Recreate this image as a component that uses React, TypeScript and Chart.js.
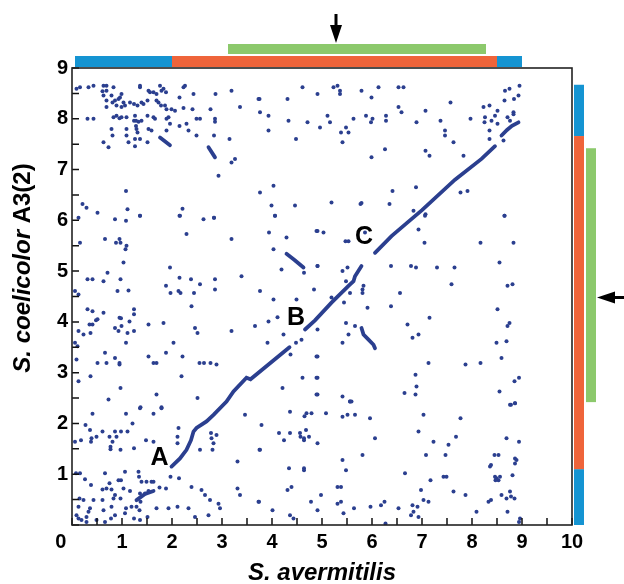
import React, { useEffect, useRef } from 'react';
import { Chart, registerables } from 'chart.js';
Chart.register(...registerables);

// ---- axes ----
const xTickValues = [0, 1, 2, 3, 4, 5, 6, 7, 8, 9, 10];
const yTickValues = [0, 1, 2, 3, 4, 5, 6, 7, 8, 9];
const xMinorTicks = [0, 0.5, 1, 1.5, 2, 2.5, 3, 3.5, 4, 4.5, 5, 5.5, 6, 6.5, 7, 7.5, 8, 8.5, 9, 9.5, 10];
const yMinorTicks = [0, 0.5, 1, 1.5, 2, 2.5, 3, 3.5, 4, 4.5, 5, 5.5, 6, 6.5, 7, 7.5, 8, 8.5, 9];
const xTitle = 'S. avermitilis';
const yTitleItalic = 'S. coelicolor ';
const yTitlePlain = 'A3(2)';

// ---- scattered dots (x = S. avermitilis Mb, y = S. coelicolor Mb) ----
const dotsUpperLeft: [number, number][] = [
  [0.09, 8.59], [0.16, 8.62], [0.33, 8.62], [0.43, 8.65], [0.63, 8.65], [0.69, 8.65], [0.83, 8.62], [0.69, 8.55],
  [0.61, 8.54], [0.79, 8.46], [0.63, 8.46], [0.99, 8.49], [0.96, 8.42], [0.93, 8.39], [0.86, 8.36], [0.69, 8.36],
  [0.81, 8.32], [1.03, 8.32], [1.06, 8.26], [0.89, 8.26], [0.69, 8.23], [0.99, 8.23], [1.24, 8.29], [1.31, 8.26],
  [1.39, 8.32], [1.43, 8.29], [1.51, 8.36], [1.56, 8.52], [1.53, 8.55], [1.63, 8.52], [1.69, 8.49], [1.76, 8.65],
  [1.79, 8.55], [1.83, 8.59], [1.88, 8.52], [1.73, 8.32], [1.69, 8.36], [1.78, 8.26], [1.86, 8.26], [1.89, 8.19],
  [1.99, 8.19], [2.06, 8.16], [2.15, 8.42], [2.23, 8.62], [2.26, 8.65], [2.43, 8.49], [2.41, 8.19], [2.23, 8.21],
  [2.49, 8.0], [2.56, 8.0], [2.87, 8.49], [3.19, 8.55], [3.75, 8.39], [3.36, 8.23], [2.77, 8.19], [2.86, 8.0],
  [2.86, 7.94], [1.36, 8.65], [1.36, 8.62], [1.16, 8.32], [0.83, 8.03], [0.89, 8.06], [0.95, 8.01], [0.99, 8.03],
  [1.09, 8.03], [1.26, 8.06], [1.24, 7.96], [1.28, 7.96], [1.33, 7.94], [1.39, 7.96], [1.51, 8.06], [1.63, 8.03],
  [1.66, 8.0], [1.89, 8.0], [1.93, 8.03], [1.96, 7.9], [0.31, 8.0], [0.43, 8.0], [0.79, 7.8], [0.81, 7.67],
  [0.63, 7.54], [0.73, 7.44], [1.09, 7.8], [1.09, 7.67], [1.26, 7.6], [1.26, 7.46], [1.13, 7.54], [1.36, 7.6],
  [1.53, 7.8], [1.59, 7.77], [1.51, 7.54], [1.89, 7.77], [2.15, 7.86], [2.29, 7.9], [2.33, 7.77], [2.49, 7.67],
  [2.84, 7.67], [3.15, 7.6], [3.19, 7.14], [3.26, 7.21], [2.93, 6.88], [1.08, 6.58], [1.11, 6.22], [0.21, 6.32],
  [0.29, 6.25], [0.51, 6.15], [1.36, 6.09], [2.16, 6.09], [2.21, 6.23], [2.84, 6.05], [3.76, 6.55], [1.28, 7.86],
  [1.29, 7.8], [1.31, 7.73],
];

const dotsUpperRight: [number, number][] = [
  [3.73, 8.39], [3.76, 8.13], [3.93, 8.06], [3.93, 7.77], [4.31, 8.39], [4.33, 7.96], [4.48, 7.6], [4.61, 8.62],
  [4.71, 7.93], [4.91, 8.49], [4.96, 7.83], [5.11, 8.06], [5.16, 7.93], [5.23, 8.62], [5.31, 8.65], [5.36, 8.55],
  [5.36, 8.49], [5.38, 7.73], [5.41, 7.54], [5.48, 7.83], [5.53, 7.73], [5.63, 8.0], [5.79, 8.55], [5.88, 8.06],
  [5.99, 8.42], [5.98, 7.93], [6.01, 8.0], [5.99, 7.24], [6.13, 8.62], [6.26, 7.4], [6.28, 8.06], [6.28, 7.96],
  [6.53, 8.62], [6.63, 8.62], [6.53, 8.23], [6.59, 8.13], [6.89, 7.93], [7.07, 8.16], [7.07, 7.37], [7.15, 7.27],
  [7.37, 7.96], [7.46, 7.77], [7.46, 7.67], [7.57, 8.32], [7.63, 7.54], [7.83, 7.27], [7.97, 8.0], [8.23, 8.23],
  [8.35, 8.26], [8.26, 8.03], [8.25, 7.93], [8.39, 7.96], [8.35, 7.77], [8.35, 7.6], [8.46, 8.06], [8.51, 8.16],
  [8.51, 7.9], [8.63, 7.57], [8.65, 8.36], [8.66, 8.55], [8.75, 8.59], [8.84, 8.39], [8.93, 8.46], [8.95, 8.65],
  [8.83, 8.13], [8.83, 8.09], [8.71, 8.03], [8.76, 7.96], [4.03, 6.68], [3.99, 6.29], [4.06, 6.09], [4.46, 6.29],
  [5.19, 6.35], [5.79, 6.34], [5.77, 6.32], [6.35, 6.32], [6.41, 6.58], [6.88, 6.65], [6.83, 6.19], [7.07, 6.12],
  [7.77, 6.55], [7.91, 6.58], [8.65, 6.09],
];

const dotsMiddleLeft: [number, number][] = [
  [0.13, 6.05], [0.86, 6.02], [1.08, 5.99], [1.36, 6.09], [2.15, 6.09], [2.63, 6.02], [2.84, 6.05], [4.06, 6.09],
  [0.16, 5.56], [0.66, 5.63], [0.88, 5.56], [0.95, 5.63], [0.97, 5.56], [1.09, 5.5], [1.07, 5.43], [1.03, 5.17],
  [2.29, 5.73], [3.19, 5.63], [3.94, 5.76], [4.29, 5.66], [4.03, 5.43], [4.19, 5.03], [4.91, 5.79], [4.91, 5.1],
  [4.64, 4.97], [0.71, 4.97], [0.31, 4.84], [0.41, 4.84], [0.63, 4.8], [0.97, 4.84], [1.96, 5.07], [2.15, 4.87],
  [2.38, 4.84], [2.56, 4.74], [2.86, 4.84], [2.86, 4.64], [3.39, 4.9], [0.06, 4.61], [0.13, 4.54], [0.91, 4.61],
  [1.13, 4.62], [1.88, 4.71], [1.97, 4.57], [2.13, 4.61], [2.17, 4.57], [2.44, 4.57], [3.76, 4.61], [4.03, 4.44],
  [4.49, 4.44], [4.84, 4.64], [2.39, 4.31], [0.31, 4.25], [0.41, 4.21], [0.63, 4.18], [1.24, 4.25], [1.24, 4.15],
  [0.48, 4.03], [0.51, 4.05], [0.95, 4.08], [0.98, 4.07], [1.15, 4.01], [0.35, 3.95], [0.41, 3.95], [0.99, 3.92],
  [0.86, 3.88], [0.93, 3.82], [1.11, 3.78], [1.24, 3.82], [1.53, 3.95], [1.83, 3.98], [0.13, 3.82], [0.23, 3.75],
  [0.37, 3.78], [2.46, 3.88], [2.51, 3.78], [3.19, 3.82], [3.66, 3.92], [3.93, 4.01], [4.11, 4.09], [2.03, 3.59],
  [1.08, 3.59], [0.06, 3.59], [0.11, 3.52], [3.91, 3.59], [4.48, 3.59], [4.59, 3.65], [4.23, 3.75], [4.37, 3.36],
  [0.66, 3.39], [1.53, 3.32], [1.88, 3.39], [2.21, 3.32], [0.09, 3.26], [0.51, 3.19], [0.69, 3.19], [0.86, 3.29],
  [0.95, 3.19], [0.95, 3.16], [1.63, 3.19], [1.69, 3.19], [2.55, 3.19], [2.64, 3.19], [2.77, 3.19], [2.89, 3.16],
  [4.91, 3.32], [0.37, 2.93], [2.19, 2.93], [0.13, 2.83], [4.61, 2.9], [4.91, 2.9], [0.97, 2.7], [4.21, 2.7],
  [1.69, 2.57], [0.73, 2.47], [2.51, 2.5], [4.91, 2.57], [1.37, 2.32], [1.79, 2.32],
];

const dotsMiddleRight: [number, number][] = [
  [4.89, 5.79], [5.03, 5.76], [5.47, 5.59], [5.53, 5.59], [5.86, 5.76], [7.06, 6.09], [6.93, 5.82], [7.05, 5.56],
  [8.65, 6.09], [8.17, 5.56], [8.83, 5.56], [4.91, 5.1], [5.41, 5.0], [5.51, 5.07], [5.48, 4.8], [6.38, 5.1],
  [6.78, 5.1], [6.88, 5.07], [7.3, 5.07], [7.65, 5.07], [8.55, 5.17], [7.59, 4.74], [8.71, 4.71], [8.81, 4.74],
  [5.83, 4.71], [5.81, 4.64], [5.81, 4.57], [5.56, 4.57], [6.56, 4.57], [5.19, 4.48], [5.44, 4.38], [5.91, 4.28],
  [6.38, 4.31], [8.51, 4.25], [7.15, 4.08], [5.48, 3.98], [5.66, 3.92], [6.71, 3.95], [8.75, 3.98], [8.71, 3.92],
  [4.91, 3.85], [5.53, 3.75], [6.93, 3.75], [6.81, 3.69], [5.41, 3.59], [8.49, 3.59], [8.69, 3.62], [4.89, 3.32],
  [7.13, 3.19], [7.87, 3.16], [8.17, 3.19], [8.59, 3.29], [6.87, 2.96], [4.89, 2.9], [8.85, 2.83], [8.94, 2.9],
  [6.89, 2.73], [6.65, 2.6], [6.87, 2.57], [8.55, 2.63], [4.89, 2.57], [5.41, 2.53], [5.56, 2.43], [8.78, 2.37],
  [8.86, 2.4],
];

const dotsLowerLeft: [number, number][] = [
  [1.36, 2.3], [1.79, 2.3], [0.41, 2.19], [1.08, 2.19], [1.63, 2.19], [3.46, 2.17], [0.27, 1.97], [1.21, 2.0],
  [0.36, 1.87], [0.61, 1.84], [0.86, 1.84], [0.98, 1.84], [1.11, 1.84], [0.39, 1.71], [0.49, 1.74], [0.75, 1.74],
  [0.89, 1.74], [2.13, 1.91], [2.11, 1.74], [0.06, 1.64], [0.18, 1.67], [0.38, 1.64], [0.81, 1.64], [1.48, 1.67],
  [1.63, 1.64], [2.11, 1.61], [2.78, 1.81], [2.89, 1.77], [2.79, 1.71], [2.83, 1.61], [0.77, 1.54], [0.77, 1.49],
  [0.97, 1.48], [1.24, 1.51], [2.56, 1.48], [2.81, 1.48], [3.75, 1.48], [3.31, 1.25], [0.08, 1.02], [0.16, 1.02],
  [0.66, 1.02], [1.06, 1.05], [1.33, 1.05], [1.97, 0.95], [2.14, 0.92], [1.34, 0.95], [0.26, 0.9], [0.93, 0.88],
  [0.98, 0.88], [1.39, 0.85], [1.49, 0.85], [1.59, 0.85], [1.63, 0.85], [0.38, 0.79], [0.75, 0.82], [0.61, 0.7],
  [0.69, 0.72], [0.79, 0.7], [0.86, 0.59], [1.03, 0.72], [1.75, 0.74], [1.88, 0.72], [1.16, 0.67], [1.36, 0.62],
  [1.46, 0.62], [1.53, 0.67], [0.15, 0.52], [0.23, 0.49], [0.43, 0.49], [0.61, 0.49], [0.83, 0.52], [0.97, 0.52],
  [1.37, 0.46], [2.39, 0.75], [2.59, 0.69], [2.66, 0.59], [2.76, 0.49], [3.31, 0.72], [3.36, 0.59], [2.93, 0.42],
  [2.96, 0.33], [3.73, 0.46], [0.13, 0.36], [0.36, 0.33], [0.33, 0.26], [0.63, 0.29], [0.79, 0.36], [1.08, 0.33],
  [1.19, 0.36], [1.69, 0.33], [1.93, 0.33], [2.11, 0.36], [2.33, 0.33], [2.46, 0.16], [2.73, 0.19], [0.09, 0.19],
  [0.13, 0.13], [0.19, 0.1], [0.29, 0.16], [0.29, 0.06], [0.49, 0.1], [0.66, 0.06], [0.78, 0.13], [0.86, 0.19],
  [1.06, 0.23], [1.24, 0.13], [1.36, 0.1], [1.51, 0.16], [1.29, 0.36], [1.35, 0.29],
];

const dotsLowerRight: [number, number][] = [
  [3.79, 1.97], [3.76, 1.48], [4.36, 2.23], [4.14, 1.81], [4.24, 1.67], [4.36, 1.81], [4.56, 1.81], [4.57, 1.74],
  [4.64, 1.71], [4.64, 1.67], [4.68, 1.87], [4.74, 1.74], [4.65, 2.14], [4.69, 2.2], [4.79, 2.2], [4.91, 1.61],
  [5.08, 2.2], [5.41, 2.13], [5.51, 2.17], [5.66, 2.17], [5.56, 2.43], [5.59, 2.43], [5.96, 2.1], [6.06, 1.71],
  [5.81, 1.38], [5.41, 1.28], [5.48, 1.08], [4.34, 1.12], [4.64, 1.12], [4.64, 1.08], [6.66, 1.02], [7.03, 2.17],
  [6.93, 1.84], [7.23, 1.64], [7.08, 1.38], [7.47, 1.38], [7.53, 1.58], [7.68, 1.74], [7.77, 2.1], [7.17, 0.88],
  [7.43, 0.95], [7.49, 0.95], [6.98, 0.69], [4.39, 0.75], [4.31, 0.69], [5.31, 0.75], [5.38, 0.75], [4.98, 0.59],
  [4.78, 0.46], [5.31, 0.42], [5.38, 0.46], [3.74, 0.46], [4.01, 0.29], [4.36, 0.19], [4.43, 0.13], [4.91, 0.29],
  [5.43, 0.23], [5.64, 0.33], [5.97, 0.36], [6.18, 0.39], [6.25, 0.46], [6.27, 0.03], [6.53, 0.33], [6.81, 0.39],
  [6.91, 0.36], [6.83, 0.26], [6.78, 0.19], [6.93, 0.16], [7.03, 0.49], [7.13, 0.46], [7.63, 0.66], [7.87, 0.59],
  [8.09, 0.26], [8.33, 0.46], [8.38, 0.49], [8.36, 1.15], [8.38, 1.18], [8.45, 1.38], [8.53, 1.38], [8.46, 0.95],
  [8.49, 0.92], [8.53, 0.88], [8.47, 0.88], [8.56, 0.95], [8.59, 0.59], [8.69, 1.71], [8.76, 2.37], [8.86, 2.4],
  [8.94, 1.64], [8.86, 1.31], [8.89, 1.28], [8.86, 1.21], [8.81, 0.98], [8.76, 0.66], [8.69, 0.52], [8.78, 0.56],
  [8.85, 0.52], [8.71, 0.26], [8.96, 0.13], [8.94, 0.06],
];

// ---- dense collinear runs (conserved syntenic blocks), vertices ----
const runA: [number, number][] = [
  [1.99, 1.15], [2.16, 1.31], [2.29, 1.48], [2.38, 1.67], [2.43, 1.84], [2.49, 1.91], [2.69, 2.04], [2.83, 2.17],
  [3.09, 2.43], [3.23, 2.63], [3.49, 2.9], [3.57, 2.87], [4.35, 3.5],
];
const runB: [number, number][] = [
  [4.66, 3.85], [4.86, 4.03], [5.19, 4.38], [5.53, 4.71], [5.63, 4.8], [5.66, 4.9], [5.79, 5.1],
];
const runC: [number, number][] = [
  [6.06, 5.36], [6.39, 5.69], [6.7, 5.95], [7.0, 6.2], [7.66, 6.8], [8.19, 7.21], [8.46, 7.46],
];
const runEnd: [number, number][] = [[8.59, 7.67], [8.7, 7.78], [8.8, 7.86], [8.93, 7.93]];
const runInv1: [number, number][] = [[4.29, 5.34], [4.45, 5.22], [4.63, 5.07]];
const runInv2: [number, number][] = [[5.79, 3.88], [5.83, 3.75], [5.93, 3.65], [6.03, 3.55], [6.06, 3.48]];
const runSmall1: [number, number][] = [[1.76, 7.63], [1.96, 7.48]];
const runSmall2: [number, number][] = [[2.73, 7.44], [2.86, 7.24]];
const runSmall3: [number, number][] = [[1.29, 0.49], [1.46, 0.61], [1.63, 0.67]];

// ---- region labels ----
const regionLabels: [string, number, number][] = [['A', 1.75, 1.31], ['B', 4.48, 4.08], ['C', 5.84, 5.67]];

// ---- genome region bars (Mb) ----
const topBlueRanges: [number, number][] = [[0.06, 2.0], [8.5, 9.0]];
const topOrangeRange: [number, number] = [2.0, 8.5];
const topGreenRange: [number, number] = [3.12, 8.28];
const topArrowX = 5.28;
const rightBlueRanges: [number, number][] = [[7.66, 8.67], [0.0, 1.1]];
const rightOrangeRange: [number, number] = [1.1, 7.66];
const rightGreenRange: [number, number] = [2.42, 7.42];
const rightArrowY = 4.48;

const DOT = '#2b3f8f';
const BLUE = '#1594d2';
const ORANGE = '#ef643a';
const GREEN = '#8cc96c';
const FONT = '"Liberation Sans", Arial, sans-serif';

const toXY = (arr: [number, number][]) => arr.map(([x, y]) => ({ x, y }));

export default function App() {
  const ref = useRef<HTMLCanvasElement | null>(null);
  useEffect(() => {
    if (!ref.current) return;
    const allDots = [
      ...dotsUpperLeft, ...dotsUpperRight, ...dotsMiddleLeft,
      ...dotsMiddleRight, ...dotsLowerLeft, ...dotsLowerRight,
    ];
    const runs = [runA, runB, runC, runEnd, runInv1, runInv2, runSmall1, runSmall2, runSmall3];
    const decor = {
      id: 'decor',
      afterDraw(chart: any) {
        const { ctx, chartArea: a, scales } = chart;
        const xs = scales.x, ys = scales.y;
        ctx.save();
        // inward ticks
        ctx.strokeStyle = '#111';
        ctx.lineWidth = 1.5;
        ctx.beginPath();
        xMinorTicks.forEach((v) => {
          const px = xs.getPixelForValue(v);
          ctx.moveTo(px, a.bottom);
          ctx.lineTo(px, a.bottom - 7);
        });
        yMinorTicks.forEach((v) => {
          const py = ys.getPixelForValue(v);
          ctx.moveTo(a.left, py);
          ctx.lineTo(a.left + 7, py);
        });
        ctx.stroke();
        // frame
        ctx.lineWidth = 1.6;
        ctx.strokeStyle = '#222';
        ctx.strokeRect(a.left, a.top, a.right - a.left, a.bottom - a.top);

        // top bars
        const bar = (x0: number, x1: number, y: number, h: number, c: string) => {
          ctx.fillStyle = c;
          const p0 = xs.getPixelForValue(x0), p1 = xs.getPixelForValue(x1);
          ctx.fillRect(p0, y, p1 - p0, h);
        };
        topBlueRanges.forEach(([s, e]) => bar(s, e, a.top - 12, 11, BLUE));
        bar(topOrangeRange[0], topOrangeRange[1], a.top - 12, 11, ORANGE);
        bar(topGreenRange[0], topGreenRange[1], a.top - 24, 10, GREEN);
        // right bars
        const vbar = (y0: number, y1: number, x: number, w: number, c: string) => {
          ctx.fillStyle = c;
          const p0 = ys.getPixelForValue(y1), p1 = ys.getPixelForValue(y0);
          ctx.fillRect(x, p0, w, p1 - p0);
        };
        rightBlueRanges.forEach(([s, e]) => vbar(s, e, a.right + 2, 10, BLUE));
        vbar(rightOrangeRange[0], rightOrangeRange[1], a.right + 2, 10, ORANGE);
        vbar(rightGreenRange[0], rightGreenRange[1], a.right + 14, 10, GREEN);

        // arrows
        ctx.fillStyle = '#000';
        ctx.strokeStyle = '#000';
        const ax = xs.getPixelForValue(topArrowX);
        const tipY = a.top - 25;
        ctx.lineWidth = 3;
        ctx.beginPath();
        ctx.moveTo(ax, tipY - 29);
        ctx.lineTo(ax, tipY - 12);
        ctx.stroke();
        ctx.beginPath();
        ctx.moveTo(ax - 6, tipY - 18);
        ctx.lineTo(ax + 6, tipY - 18);
        ctx.lineTo(ax, tipY);
        ctx.closePath();
        ctx.fill();
        const ay = ys.getPixelForValue(rightArrowY);
        const tipX = a.right + 25;
        ctx.beginPath();
        ctx.moveTo(tipX + 12, ay);
        ctx.lineTo(624, ay);
        ctx.stroke();
        ctx.beginPath();
        ctx.moveTo(tipX + 18, ay - 6);
        ctx.lineTo(tipX + 18, ay + 6);
        ctx.lineTo(tipX, ay);
        ctx.closePath();
        ctx.fill();

        // region labels
        ctx.fillStyle = '#000';
        ctx.font = `bold 25px ${FONT}`;
        ctx.textAlign = 'center';
        ctx.textBaseline = 'middle';
        regionLabels.forEach(([t, x, y]) => {
          ctx.fillText(t, xs.getPixelForValue(x), ys.getPixelForValue(y));
        });

        // x title
        ctx.font = `italic bold 24px ${FONT}`;
        ctx.textBaseline = 'middle';
        ctx.fillText(xTitle, (a.left + a.right) / 2, a.bottom + 48);

        // y title (mixed italic / upright)
        ctx.save();
        ctx.translate(23, 268);
        ctx.rotate(-Math.PI / 2);
        ctx.textAlign = 'left';
        ctx.font = `italic bold 24px ${FONT}`;
        const w1 = ctx.measureText(yTitleItalic).width;
        ctx.font = `bold 24px ${FONT}`;
        const w2 = ctx.measureText(yTitlePlain).width;
        const start = -(w1 + w2) / 2;
        ctx.font = `italic bold 24px ${FONT}`;
        ctx.fillText(yTitleItalic, start, 0);
        ctx.font = `bold 24px ${FONT}`;
        ctx.fillText(yTitlePlain, start + w1, 0);
        ctx.restore();

        ctx.restore();
      },
    };

    const chart = new Chart(ref.current, {
      type: 'scatter',
      data: {
        datasets: [
          {
            data: toXY(allDots),
            backgroundColor: DOT,
            borderWidth: 0,
            pointRadius: 2,
            pointHoverRadius: 2,
          } as any,
          ...runs.map((r) => ({
            data: toXY(r),
            showLine: true,
            borderColor: DOT,
            borderWidth: 3.8,
            pointRadius: 0,
            tension: 0,
            borderCapStyle: 'round',
          } as any)),
        ],
      },
      options: {
        responsive: false,
        animation: false,
        events: [],
        layout: { padding: { top: 68, right: 52, left: 0, bottom: 0 } },
        plugins: { legend: { display: false }, tooltip: { enabled: false }, title: { display: false } },
        scales: {
          x: {
            type: 'linear',
            min: 0,
            max: 10,
            afterFit: (s: any) => { s.height = 59; },
            afterBuildTicks: (s: any) => { s.ticks = xTickValues.map((v) => ({ value: v })); },
            grid: { display: false, drawTicks: false },
            border: { display: false },
            ticks: {
              padding: 5,
              color: '#000',
              font: { family: FONT, size: 20, weight: 'bold' },
              maxRotation: 0,
              autoSkip: false,
              callback: (v: any) => (v === 0 ? '0    ' : String(v)),
            },
          },
          y: {
            type: 'linear',
            min: 0,
            max: 9,
            afterFit: (s: any) => { s.width = 72; },
            afterBuildTicks: (s: any) => { s.ticks = yTickValues.map((v) => ({ value: v })); },
            grid: { display: false, drawTicks: false },
            border: { display: false },
            ticks: {
              padding: 4,
              color: '#000',
              font: { family: FONT, size: 20, weight: 'bold' },
              autoSkip: false,
              callback: (v: any) => (v === 0 ? '' : String(v)),
            },
          },
        },
      },
      plugins: [decor],
    } as any);
    return () => chart.destroy();
  }, []);

  return (
    <div style={{ position: 'fixed', left: 0, top: 0, width: 624, height: 584, background: '#fff' }}>
      <canvas ref={ref} width={624} height={584} />
    </div>
  );
}
